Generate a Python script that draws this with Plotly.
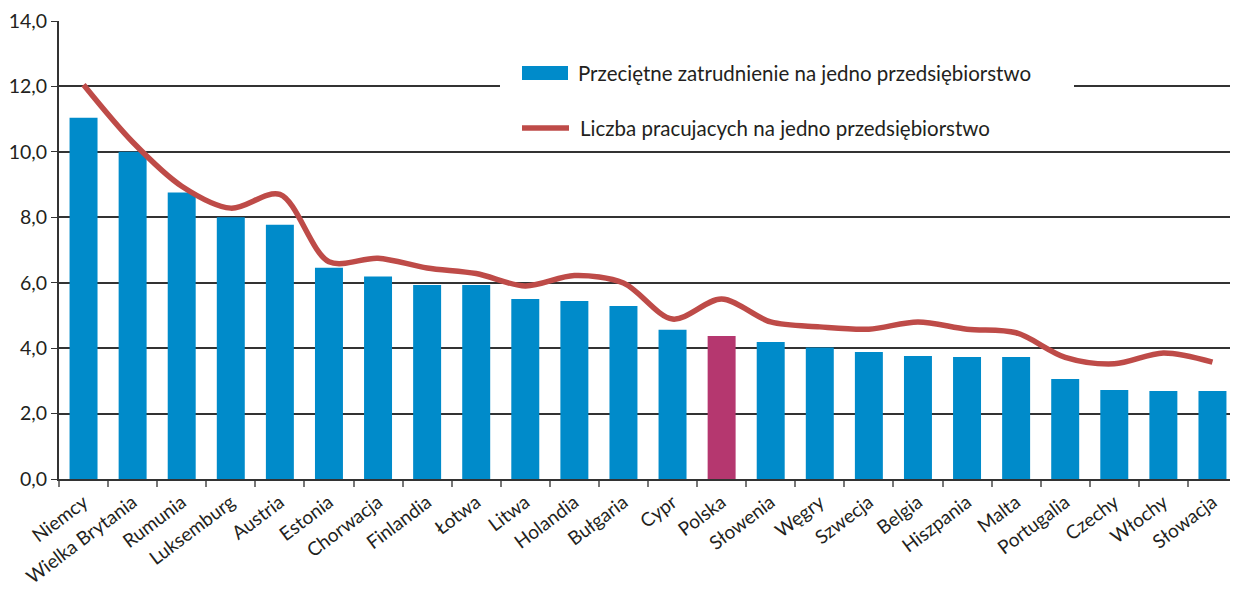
import plotly.graph_objects as go

countries = ["Niemcy", "Wielka Brytania", "Rumunia", "Luksemburg", "Austria", "Estonia",
             "Chorwacja", "Finlandia", "Łotwa", "Litwa", "Holandia", "Bułgaria", "Cypr",
             "Polska", "Słowenia", "Węgry", "Szwecja", "Belgia", "Hiszpania", "Malta",
             "Portugalia", "Czechy", "Włochy", "Słowacja"]
avg_employment = [11.04, 10.0, 8.76, 8.0, 7.77, 6.46, 6.19, 5.93, 5.93, 5.50, 5.44, 5.29,
                  4.56, 4.37, 4.19, 4.02, 3.88, 3.76, 3.73, 3.73, 3.06, 2.72, 2.69, 2.69]
workers = [12.05, 10.3, 8.95, 8.28, 8.7, 6.64, 6.75, 6.45, 6.28, 5.9, 6.22, 5.99,
           4.89, 5.5, 4.8, 4.65, 4.58, 4.8, 4.58, 4.47, 3.72, 3.52, 3.85, 3.57]
y_ticks = [0, 2, 4, 6, 8, 10, 12, 14]
legend_bar = "Przeciętne zatrudnienie na jedno przedsiębiorstwo"
legend_line = "Liczba pracujacych na jedno przedsiębiorstwo"

BLUE = "#008BCA"
PINK = "#B5376F"
RED = "#BE4B48"
TXT = "#231F20"
FONT = "Lato"

bar_colors = [PINK if c == "Polska" else BLUE for c in countries]

fig = go.Figure()
fig.add_trace(go.Bar(x=countries, y=avg_employment, marker=dict(color=bar_colors, line=dict(width=0)),
                     name=legend_bar, showlegend=False))
fig.add_trace(go.Scatter(x=countries, y=workers, mode="lines",
                         line=dict(color=RED, width=5.5, shape="spline", smoothing=0.9),
                         name=legend_line, showlegend=False))

# manual legend (white box covering grid)
PX0, PY0, PW, PH = 59, 479, 1178, 458
def px(x):
    return (x - PX0) / PW
def py(y):
    return (PY0 - y) / PH

fig.add_shape(type="rect", xref="paper", yref="y", x0=px(500), x1=px(1074),
              y0=10.6, y1=13.3, fillcolor="white", line=dict(width=0), layer="above")
fig.add_shape(type="rect", xref="paper", yref="paper", x0=px(522), x1=px(568),
              y0=py(80), y1=py(66), fillcolor=BLUE, line=dict(width=0), layer="above")
fig.add_shape(type="line", xref="paper", yref="paper", x0=px(522), x1=px(569),
              y0=py(128), y1=py(128), line=dict(color=RED, width=5.5), layer="above")
fig.add_annotation(xref="paper", yref="paper", x=px(576), y=py(73),
                   text=legend_bar, showarrow=False, xanchor="left", yanchor="middle",
                   font=dict(family=FONT, size=20.5, color=TXT))
fig.add_annotation(xref="paper", yref="paper", x=px(578), y=py(128),
                   text=legend_line, showarrow=False, xanchor="left", yanchor="middle",
                   font=dict(family=FONT, size=20.5, color=TXT))

# page body has an 8px default margin: offset figure accordingly
fig.update_layout(
    width=1230, height=581,
    margin=dict(l=51, r=1, t=13, b=110),
    plot_bgcolor="white", paper_bgcolor="white",
    separators=", ",
    bargap=0.43,
    font=dict(family=FONT, size=19, color=TXT),
    xaxis=dict(tickangle=-37, ticks="outside", tickson="boundaries", ticklen=6,
               tickcolor="#777", tickwidth=1.5, showline=True, linecolor="#333", linewidth=2,
               showgrid=False, ticklabelstandoff=3, automargin=False,
               tickfont=dict(family=FONT, size=19, color=TXT)),
    yaxis=dict(range=[0, 14], tickvals=y_ticks, tickformat=".1f", ticks="outside",
               ticklen=6, tickcolor="#333", showline=True, linecolor="#333", linewidth=2,
               showgrid=True, gridcolor="#333", gridwidth=1.5, zeroline=False,
               automargin=False,
               tickfont=dict(family=FONT, size=19.5, color=TXT)),
)

fig.write_html("out.html")
